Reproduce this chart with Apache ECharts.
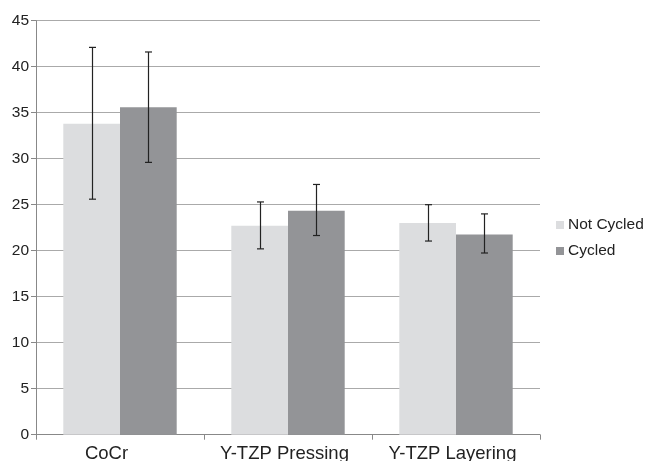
<!DOCTYPE html>
<html><head><meta charset="utf-8">
<script src="https://cdn.jsdelivr.net/npm/echarts@6/dist/echarts.min.js"></script>
<style>html,body{margin:0;padding:0;background:#fff}#c{width:646px;height:461px}</style>
</head><body><div id="c"></div>
<script>
const categories = ['CoCr', 'Y-TZP Pressing', 'Y-TZP Layering'];
const notCycled = [33.8, 22.7, 23.0];
const notCycledLow = [25.6, 20.2, 21.05];
const notCycledHigh = [42.1, 25.3, 25.0];
const cycled = [35.6, 24.35, 21.75];
const cycledLow = [29.6, 21.65, 19.75];
const cycledHigh = [41.6, 27.2, 24.0];
const yTicks = [0, 5, 10, 15, 20, 25, 30, 35, 40, 45];

const FONT = 'Liberation Sans, Arial, sans-serif';
const barGapRatio = 0.325;

function errSeries(low, high, idx) {
  return {
    type: 'custom',
    name: 'err' + idx,
    z: 10,
    silent: true,
    data: low.map((l, i) => [i, l, high[i]]),
    renderItem: function (params, api) {
      const ci = api.value(0);
      const lowPt = api.coord([ci, api.value(1)]);
      const highPt = api.coord([ci, api.value(2)]);
      const band = api.size([1, 0])[0];
      const barW = band * (1 - barGapRatio) / 2;
      const x = Math.round(lowPt[0] + (idx === 0 ? -barW / 2 : barW / 2)) + 0.5;
      const cap = 3.5;
      const st = { stroke: '#222', lineWidth: 1.2 };
      return {
        type: 'group',
        children: [
          { type: 'line', shape: { x1: x, y1: highPt[1], x2: x, y2: lowPt[1] }, style: st },
          { type: 'line', shape: { x1: x - cap, y1: highPt[1], x2: x + cap, y2: highPt[1] }, style: st },
          { type: 'line', shape: { x1: x - cap, y1: lowPt[1], x2: x + cap, y2: lowPt[1] }, style: st }
        ]
      };
    }
  };
}

const chart = echarts.init(document.getElementById('c'));
chart.setOption({
  animation: false,
  backgroundColor: '#fff',
  textStyle: { fontFamily: FONT },
  grid: { left: 36, right: 106, top: 20.7, bottom: 26.3, containLabel: false, outerBoundsMode: 'none' },
  legend: {
    data: ['Not Cycled', 'Cycled'],
    orient: 'vertical',
    left: 551,
    top: 212,
    icon: 'rect',
    itemWidth: 8,
    itemHeight: 8,
    itemGap: 10,
    textStyle: { fontSize: 15.5, color: '#222', fontFamily: FONT, padding: [0, 0, 0, -1] }
  },
  xAxis: {
    type: 'category',
    data: categories,
    axisLine: { lineStyle: { color: '#888', width: 1 } },
    axisTick: { show: true, length: 5, lineStyle: { color: '#888' } },
    axisLabel: {
      interval: 0,
      hideOverlap: false,
      fontSize: 18.5, color: '#222', margin: 10, fontFamily: FONT,
      formatter: function (v, i) { return i === 0 ? '{a|' + v + '}' : '{b|' + v + '}'; },
      rich: {
        a: { fontSize: 18.5, color: '#222', fontFamily: FONT, padding: [0, 27, 0, 0] },
        b: { fontSize: 18.5, color: '#222', fontFamily: FONT, padding: [0, 7, 0, 0] }
      }
    }
  },
  yAxis: {
    type: 'value',
    min: yTicks[0],
    max: yTicks[yTicks.length - 1],
    interval: 5,
    axisLine: { show: true, lineStyle: { color: '#888', width: 1 } },
    axisTick: { show: true, length: 5, lineStyle: { color: '#888' } },
    splitLine: { lineStyle: { color: '#aaa', width: 1 } },
    axisLabel: { fontSize: 15.5, color: '#222', margin: 7, fontFamily: FONT }
  },
  series: [
    { name: 'Not Cycled', type: 'bar', data: notCycled, barGap: '0%', barCategoryGap: (barGapRatio * 100) + '%',
      itemStyle: { color: '#dcdddf' } },
    { name: 'Cycled', type: 'bar', data: cycled,
      itemStyle: { color: '#939497' } },
    errSeries(notCycledLow, notCycledHigh, 0),
    errSeries(cycledLow, cycledHigh, 1)
  ]
});
</script></body></html>
